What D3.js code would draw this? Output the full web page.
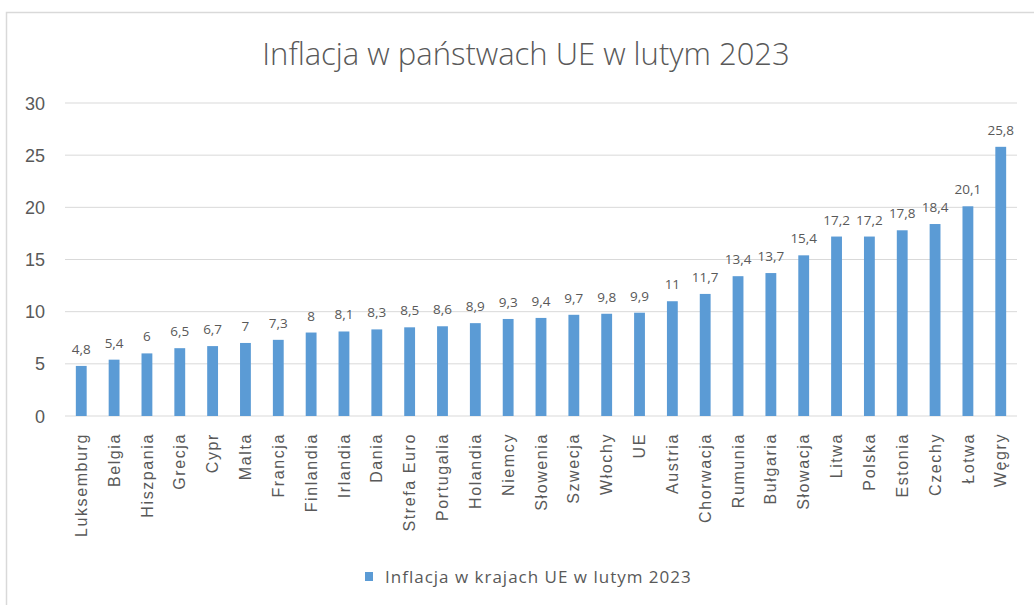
<!DOCTYPE html>
<html>
<head>
<meta charset="utf-8">
<script src="https://cdn.jsdelivr.net/npm/d3@7"></script>
<style>
  body { margin: 0; background: #fff; }
  svg { display: block; font-family: "Open Sans", "Noto Sans", sans-serif; }
</style>
</head>
<body>
<svg width="1034" height="605"></svg>
<script>
const countries = ["Luksemburg", "Belgia", "Hiszpania", "Grecja", "Cypr", "Malta", "Francja",
  "Finlandia", "Irlandia", "Dania", "Strefa Euro", "Portugalia", "Holandia", "Niemcy",
  "Słowenia", "Szwecja", "Włochy", "UE", "Austria", "Chorwacja", "Rumunia", "Bułgaria",
  "Słowacja", "Litwa", "Polska", "Estonia", "Czechy", "Łotwa", "Węgry"];
const inflation = [4.8, 5.4, 6, 6.5, 6.7, 7, 7.3, 8, 8.1, 8.3, 8.5, 8.6, 8.9, 9.3, 9.4,
  9.7, 9.8, 9.9, 11, 11.7, 13.4, 13.7, 15.4, 17.2, 17.2, 17.8, 18.4, 20.1, 25.8];
const yTicks = [0, 5, 10, 15, 20, 25, 30];
const chartTitle = "Inflacja w państwach UE w lutym 2023";
const seriesName = "Inflacja w krajach UE w lutym 2023";

const data = countries.map((c, i) => ({ name: c, value: inflation[i] }));

let svg = d3.select("svg"),
  margin = { left: 65, right: 17, top: 103, bottom: 189 },
  width = 1034 - margin.left - margin.right,
  height = 605 - margin.top - margin.bottom;

const barColor = "#5b9bd5";
const textColor = "#595959";
const fmt = v => String(v).replace(".", ",");

// frame
svg.append("rect")
  .attr("x", 6.5).attr("y", 12.5)
  .attr("width", 1040).attr("height", 610)
  .attr("fill", "none")
  .attr("stroke", "#d9d9d9")
  .attr("stroke-width", 1.5);

svg.append("text")
  .attr("x", 526).attr("y", 65)
  .attr("text-anchor", "middle")
  .attr("fill", textColor)
  .style("font-size", "31px")
  .style("font-weight", 300)
  .text(chartTitle);

let g = svg.append("g").attr("transform", `translate(${margin.left},${margin.top})`);

let x = d3.scaleBand().domain(countries).range([0, width]).paddingInner(0.67).paddingOuter(0.33);
let y = d3.scaleLinear().domain([0, 30]).range([height, 0]);

// gridlines
g.append("g")
  .selectAll("line")
  .data(yTicks)
  .enter()
  .append("line")
  .attr("x1", 0).attr("x2", width)
  .attr("y1", d => y(d)).attr("y2", d => y(d))
  .attr("stroke", "#d9d9d9")
  .attr("stroke-width", 1);

// y axis labels
let yAxis = g.append("g").call(d3.axisLeft(y).tickValues(yTicks).tickSize(0).tickPadding(20));
yAxis.select(".domain").remove();
yAxis.selectAll("text")
  .attr("fill", textColor)
  .style("font-size", "18px")
  .attr("dy", "0.34em");

// bars
g.selectAll("rect.bar")
  .data(data)
  .enter()
  .append("rect")
  .attr("class", "bar")
  .attr("x", d => x(d.name))
  .attr("y", d => y(d.value))
  .attr("width", x.bandwidth())
  .attr("height", d => height - y(d.value))
  .attr("fill", barColor);

// value labels
g.selectAll("text.val")
  .data(data)
  .enter()
  .append("text")
  .attr("class", "val")
  .attr("x", d => x(d.name) + x.bandwidth() / 2)
  .attr("y", d => y(d.value) - 12)
  .attr("text-anchor", "middle")
  .attr("fill", textColor)
  .style("font-size", "13.5px")
  .text(d => fmt(d.value));

// x axis
let xAxis = g.append("g")
  .attr("transform", `translate(0,${height})`)
  .call(d3.axisBottom(x).tickSize(0));
xAxis.select(".domain").remove();
xAxis.selectAll("text")
  .attr("transform", "rotate(-90)")
  .attr("text-anchor", "end")
  .attr("x", -17)
  .attr("y", 0)
  .attr("dy", "0.35em")
  .attr("fill", textColor)
  .style("font-size", "16px")
  .style("letter-spacing", "1.6px");

// legend
let legend = svg.append("g").attr("transform", "translate(365,577)");
legend.append("rect")
  .attr("x", 0).attr("y", -5)
  .attr("width", 8).attr("height", 9)
  .attr("fill", barColor);
legend.append("text")
  .attr("x", 20).attr("y", 0)
  .attr("dy", "0.35em")
  .attr("fill", textColor)
  .style("font-size", "17px")
  .style("letter-spacing", "1px")
  .text(seriesName);
</script>
</body>
</html>
